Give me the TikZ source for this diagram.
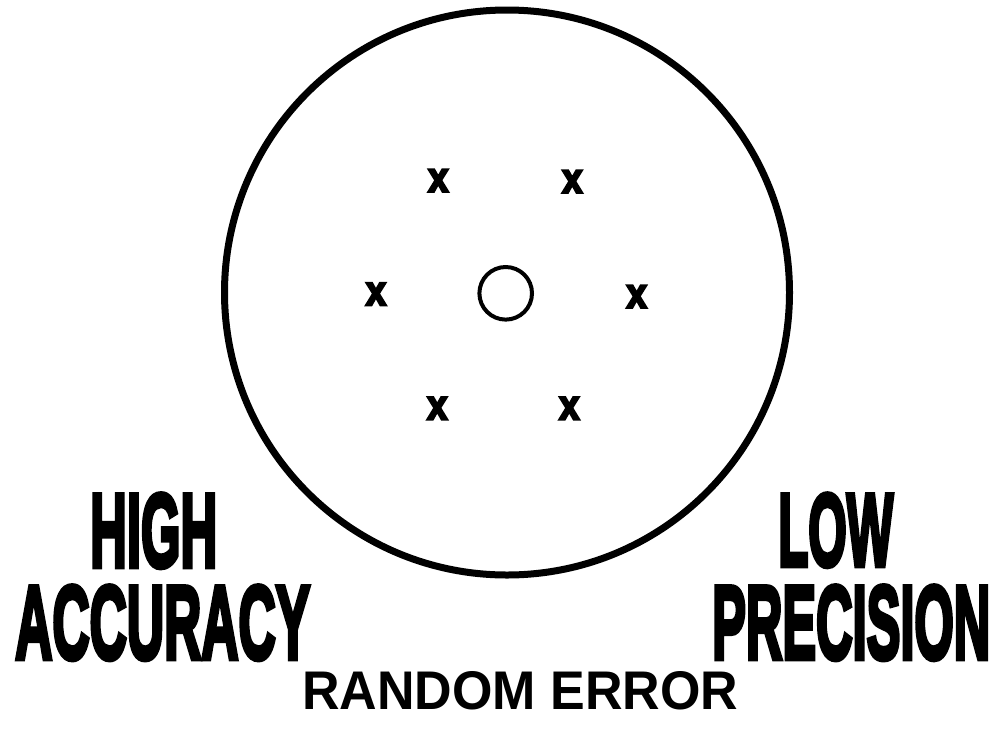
\documentclass[tikz,border=0pt]{standalone}
\usepackage{fontspec}
\usepackage{graphicx}
\usepackage{tikz}
\setmainfont{Liberation Sans}
\newfontfamily\heavyfont[FakeBold=5]{Liberation Sans}
\newfontfamily\hitfont[FakeBold=6]{Liberation Sans}
\usetikzlibrary{positioning}

\begin{document}
\begin{tikzpicture}[
  x=1pt, y=-1pt,
  hit/.style={inner sep=0pt, font=\hitfont\bfseries},
  bigword/.style={inner sep=0pt, anchor=south west, font=\heavyfont\bfseries}
]
\useasboundingbox (0,0) rectangle (996,745);

% Target and its centre
\node[circle, draw, line width=7pt, minimum size=565pt, inner sep=0pt] (target) at (507,292.5) {};
\node[circle, draw, line width=4pt, minimum size=52.6pt, inner sep=0pt] (centre) at (505.7,293.3) {};

% Scattered hits
\node[hit] (h1) at (438.3,180.7) {\resizebox{20pt}{22pt}{x}};
\node[hit] (h2) at (572.3,181.7) {\resizebox{20pt}{22pt}{x}};
\node[hit] (h3) at (376,294) {\resizebox{20pt}{22pt}{x}};
\node[hit] (h4) at (636.7,296.7) {\resizebox{20pt}{22pt}{x}};
\node[hit] (h5) at (437.3,408.3) {\resizebox{20pt}{22pt}{x}};
\node[hit] (h6) at (569.3,408.3) {\resizebox{20pt}{22pt}{x}};

% Left label
\node[bigword] (high) at (90,568) {\resizebox{127pt}{73pt}{HIGH}};
\node[bigword] (accuracy) at (15,660) {\resizebox{295pt}{73pt}{ACCURACY}};

% Right label
\node[bigword] (low) at (778,567) {\resizebox{115pt}{72pt}{LOW}};
\node[bigword] (precision) at (712,660) {\resizebox{278pt}{73pt}{PRECISION}};

% Caption
\node[inner sep=0pt, anchor=south west, font=\bfseries] (caption) at (302,710) {\resizebox{436pt}{38pt}{RANDOM ERROR}};

\end{tikzpicture}
\end{document}
